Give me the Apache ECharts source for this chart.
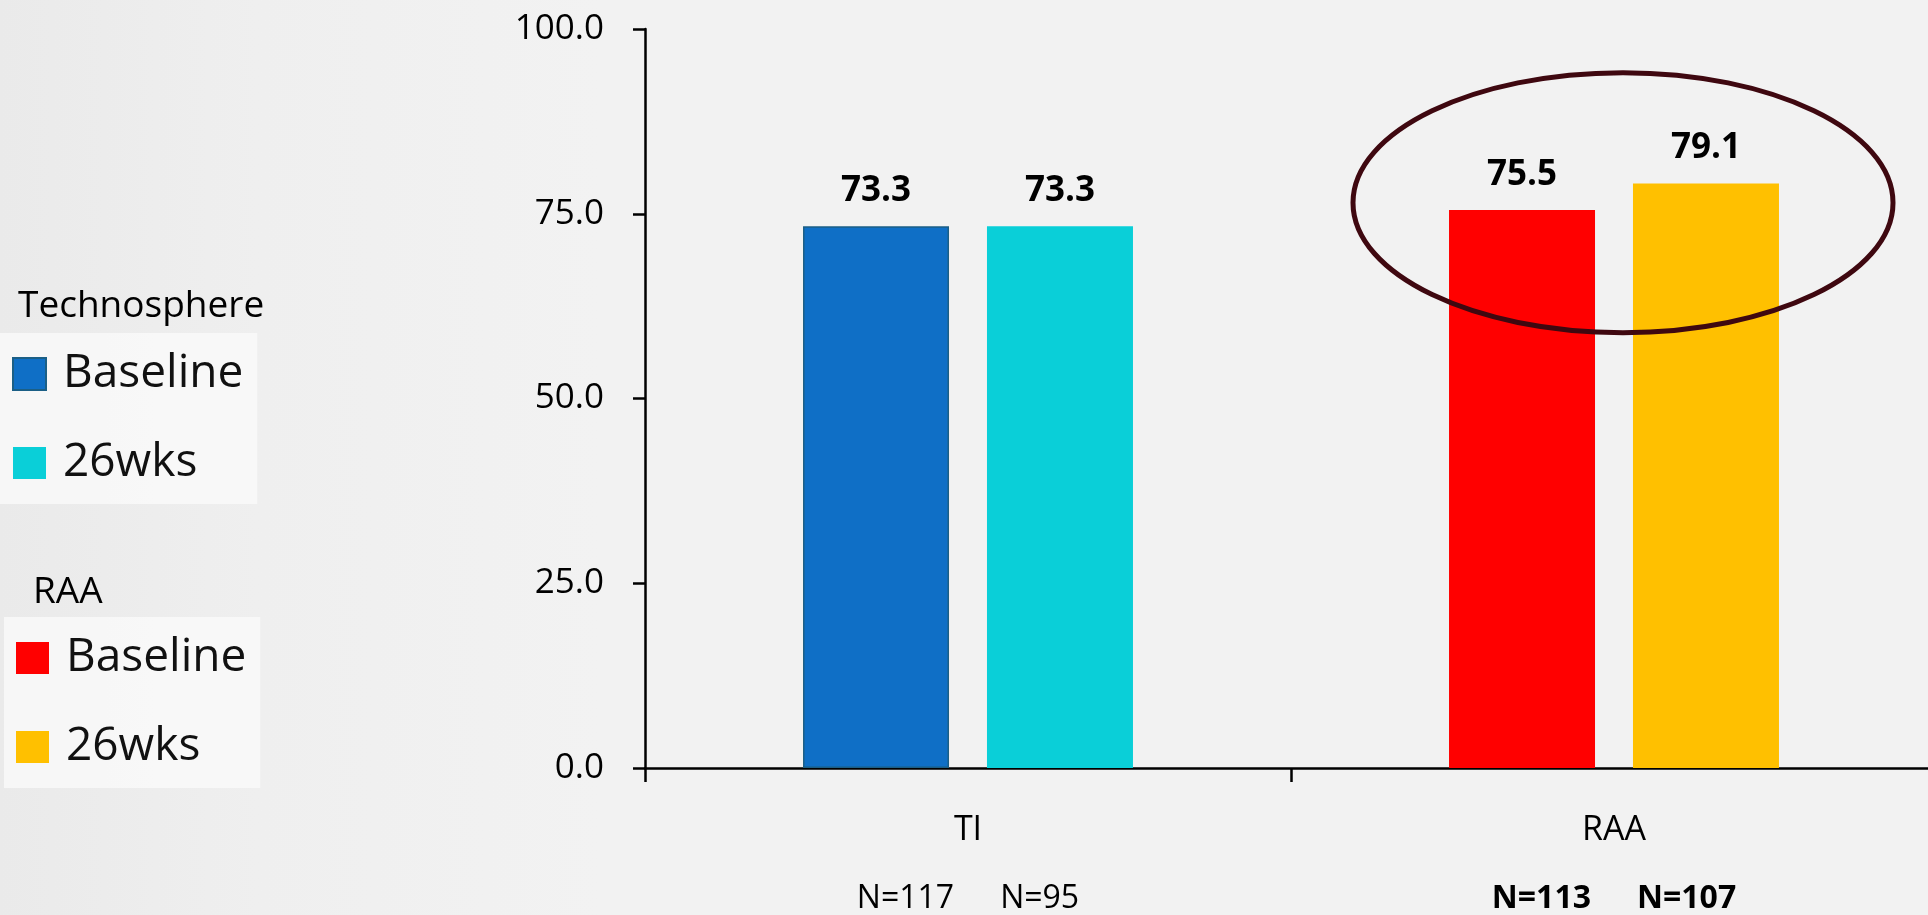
<!DOCTYPE html>
<html>
<head>
<meta charset="utf-8">
<title>Technosphere vs RAA</title>
<script src="https://cdn.jsdelivr.net/npm/echarts@6/dist/echarts.min.js"></script>
<style>
  html, body { margin: 0; padding: 0; }
  body { background: linear-gradient(to right, #eaeaea 0px, #efefef 260px, #f2f2f2 600px, #f2f2f2 100%); }
  #chart { width: 1928px; height: 915px; }
</style>
</head>
<body>
<div id="chart"></div>
<script>
// Categories on the x axis
const categories = ['TI', 'RAA'];
// Values per series (one category each)
const tsBaseline = [73.3, '-'];
const ts26wks = [73.3, '-'];
const raaBaseline = ['-', 75.5];
const raa26wks = ['-', 79.1];
// Sample sizes shown under each category
const nBaseline = [117, 113];
const n26wks = [95, 107];
// Y-axis ticks
const yMin = 0, yMax = 100, yStep = 25;

const FONT = 'Open Sans';
const chart = echarts.init(document.getElementById('chart'));

const valueLabel = {
  show: true,
  position: 'top',
  distance: 18,
  fontFamily: FONT,
  fontWeight: 'bold',
  fontSize: 35,
  lineHeight: 34,
  color: '#000',
  formatter: p => p.value.toFixed(1)
};

function barSeries(name, data, color, stack, border) {
  return {
    name, type: 'bar', stack, data,
    barWidth: 146,
    barGap: '26%',
    itemStyle: { color, borderColor: border || color, borderWidth: border ? 1.5 : 0 },
    label: valueLabel,
    emphasis: { disabled: true }
  };
}

const legendBase = {
  orient: 'vertical',
  icon: 'rect',
  itemWidth: 33,
  itemHeight: 32,
  itemGap: 43,
  padding: [18, 14, 18, 12],
  backgroundColor: 'rgba(250,250,250,0.8)',
  selectedMode: false,
  formatter: name => name.replace(/^(Technosphere|RAA) /, ''),
  textStyle: { fontFamily: FONT, fontSize: 46, lineHeight: 32, color: '#111', padding: [0, 0, 0, 12] }
};

const headers = [
  { type: 'text', left: 18, top: 288, style: { text: 'Technosphere', fontFamily: FONT, fontSize: 37, fill: '#000' } },
  { type: 'text', left: 33, top: 574, style: { text: 'RAA', fontFamily: FONT, fontSize: 37, fill: '#000' } }
];

chart.setOption({
  backgroundColor: 'transparent',
  animation: false,
  legend: [
    Object.assign({}, legendBase, { left: 0, top: 333, data: ['Technosphere Baseline', 'Technosphere 26wks'] }),
    Object.assign({}, legendBase, { left: 4, top: 617, data: ['RAA Baseline', 'RAA 26wks'] })
  ],
  graphic: headers,
  grid: { left: 645, top: 29, bottom: 147, width: 1292, containLabel: false, outerBoundsMode: 'none' },
  xAxis: {
    type: 'category',
    data: categories,
    axisLine: { lineStyle: { color: '#000', width: 2.5 } },
    axisTick: { show: true, length: 14, lineStyle: { color: '#000', width: 2.5 } },
    axisLabel: {
      margin: 35,
      interval: 0,
      formatter: (v, i) => {
        const s = i === 1 ? 'nb' : 'n';
        return `{c|${v}}\n{${s}|N=${nBaseline[i]}}{sp|}{${s}|N=${n26wks[i]}}`;
      },
      rich: {
        c: { fontFamily: FONT, fontSize: 34, lineHeight: 54, color: '#000' },
        n: { fontFamily: FONT, fontSize: 32, lineHeight: 84, color: '#000' },
        nb: { fontFamily: FONT, fontSize: 32, fontWeight: 'bold', lineHeight: 84, color: '#000' },
        sp: { width: 46 }
      }
    }
  },
  yAxis: {
    type: 'value',
    min: yMin, max: yMax, interval: yStep,
    axisLine: { show: true, lineStyle: { color: '#000', width: 2.5 } },
    axisTick: { show: true, length: 12, lineStyle: { color: '#000', width: 2.5 } },
    splitLine: { show: false },
    axisLabel: {
      margin: 41,
      fontFamily: FONT, fontSize: 35, color: '#000',
      formatter: v => v.toFixed(1)
    }
  },
  series: [
    barSeries('Technosphere Baseline', tsBaseline, '#0f6fc6', 'base', '#1b5f86'),
    barSeries('Technosphere 26wks', ts26wks, '#0acfd8', 'wk'),
    barSeries('RAA Baseline', raaBaseline, '#ff0000', 'base'),
    barSeries('RAA 26wks', raa26wks, '#ffc000', 'wk')
  ]
});

// Highlight ring around the RAA pair, placed from the axis scales
const c = chart.convertToPixel({ gridIndex: 0 }, [1, 76.5]);
chart.setOption({
  graphic: headers.concat([
    {
      type: 'ellipse',
      shape: { cx: c[0] + 9, cy: c[1], rx: 270, ry: 130 },
      style: { fill: 'none', stroke: '#3f0810', lineWidth: 5 },
      z: 100
    }
  ])
});
</script>
</body>
</html>
